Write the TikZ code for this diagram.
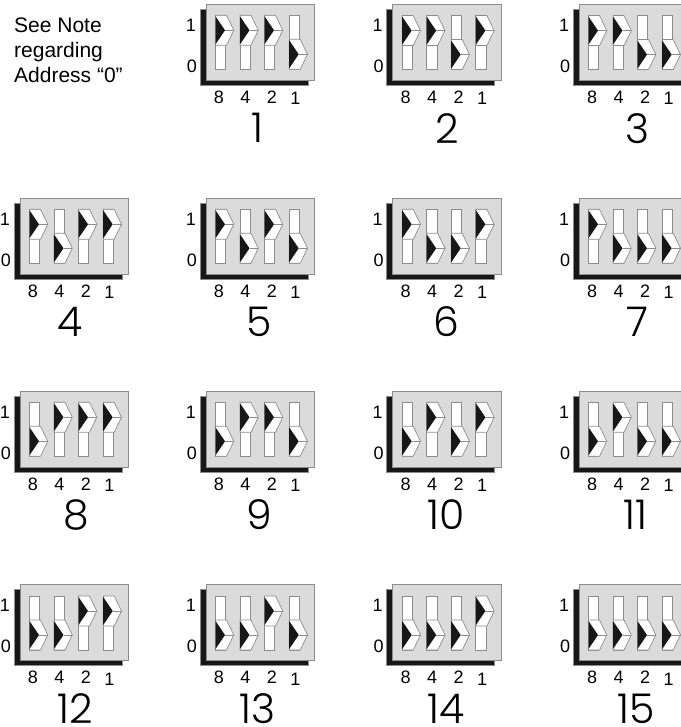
\documentclass[tikz,border=0pt]{standalone}
\usepackage{fontspec}
\setmainfont{Liberation Sans}
\newfontfamily\bigdigit{Poppins Light}
\usepackage{xcolor}
\definecolor{panelgray}{gray}{0.86}
\definecolor{edgegray}{gray}{0.55}
\definecolor{shadowblack}{gray}{0.09}
\tikzset{
  panel/.style={fill=panelgray,draw=edgegray,line width=0.9pt},
  shadowbox/.style={fill=shadowblack,draw=edgegray,line width=0.5pt},
  slot/.style={fill=white,draw=edgegray,line width=0.9pt},
  lever/.style={fill=white,draw=edgegray,line width=0.7pt,line join=round},
  levelmark/.style={font=\fontsize{18}{18}\selectfont,inner sep=0pt},
  bitmark/.style={font=\fontsize{18}{18}\selectfont,inner sep=0pt},
  addrmark/.style={font=\bigdigit\fontsize{41}{41}\selectfont,inner sep=0pt}
}
% one switch: name, box left, box top, the four lever positions, centre of the big number
\newcommand{\dipbank}[5]{
  \begin{scope}[shift={(#2,#3)}]
    \fill[shadowbox] (-6,5) rectangle (102,81);
    \fill[panel] (0,0) rectangle (108.5,76);
    \draw[panel,fill=none] (0,0) rectangle (108.5,76);
    \node[levelmark] (b#1one) at (-15,21) {1};
    \node[levelmark] (b#1zero) at (-14,62) {0};
    \foreach \bitval/\slotx/\labx/\laby [count=\idx] in {8/9.5/13/93,4/34/39.5/93,2/58.5/66/93,1/83.2/89.5/94.5} {
      \pgfmathsetmacro{\levery}{{#4}[\idx-1]==1 ? 11.3 : 35.3}
      \draw[slot] (\slotx,11.3) rectangle ++(10.3,54);
      \draw[lever] (\slotx,\levery) -- ++(11,0) -- ++(7.3,15) -- ++(-7.3,15) -- ++(-11,0) -- cycle;
      \fill[shadowblack] (\slotx,\levery+1) -- ++(9.5,14) -- ++(-9.5,14) -- cycle;
      \draw[edgegray,line width=0.5pt] (\slotx+9.5,\levery+15) -- ++(8.8,0);
      \node[bitmark] (b#1bit\bitval) at (\labx,\laby) {\bitval};
    }
    \node[addrmark] (addr#1) at (#5,124) {#1};
  \end{scope}
}
\begin{document}
\begin{tikzpicture}[x=1pt,y=-1pt]
  \useasboundingbox (0,0) rectangle (680,727);
  % Note
  \node[font=\fontsize{21}{24.6}\selectfont,align=left,anchor=north west,inner sep=0pt] (note) at (14,18) {See Note\\regarding\\Address ``0''};
  % Top row
  \dipbank{1}{206}{4}{1,1,1,0}{51}
  \dipbank{2}{392.7}{4.3}{1,1,0,1}{55}
  \dipbank{3}{579}{4.3}{1,1,0,0}{58}
  % Second row
  \dipbank{4}{20}{198}{1,0,1,1}{50}
  \dipbank{5}{206}{198}{1,0,1,0}{53}
  \dipbank{6}{392.7}{198}{1,0,0,1}{54}
  \dipbank{7}{579}{198}{1,0,0,0}{58}
  % Third row
  \dipbank{8}{20}{391}{0,1,1,1}{56}
  \dipbank{9}{206}{391}{0,1,1,0}{53}
  \dipbank{10}{392.7}{391}{0,1,0,1}{53}
  \dipbank{11}{579}{391}{0,1,0,0}{56}
  % Bottom row
  \dipbank{12}{20}{584.7}{0,0,1,1}{55}
  \dipbank{13}{206}{584.7}{0,0,1,0}{51.5}
  \dipbank{14}{392.7}{584.7}{0,0,0,1}{53}
  \dipbank{15}{579}{584.7}{0,0,0,0}{57}
\end{tikzpicture}
\end{document}
